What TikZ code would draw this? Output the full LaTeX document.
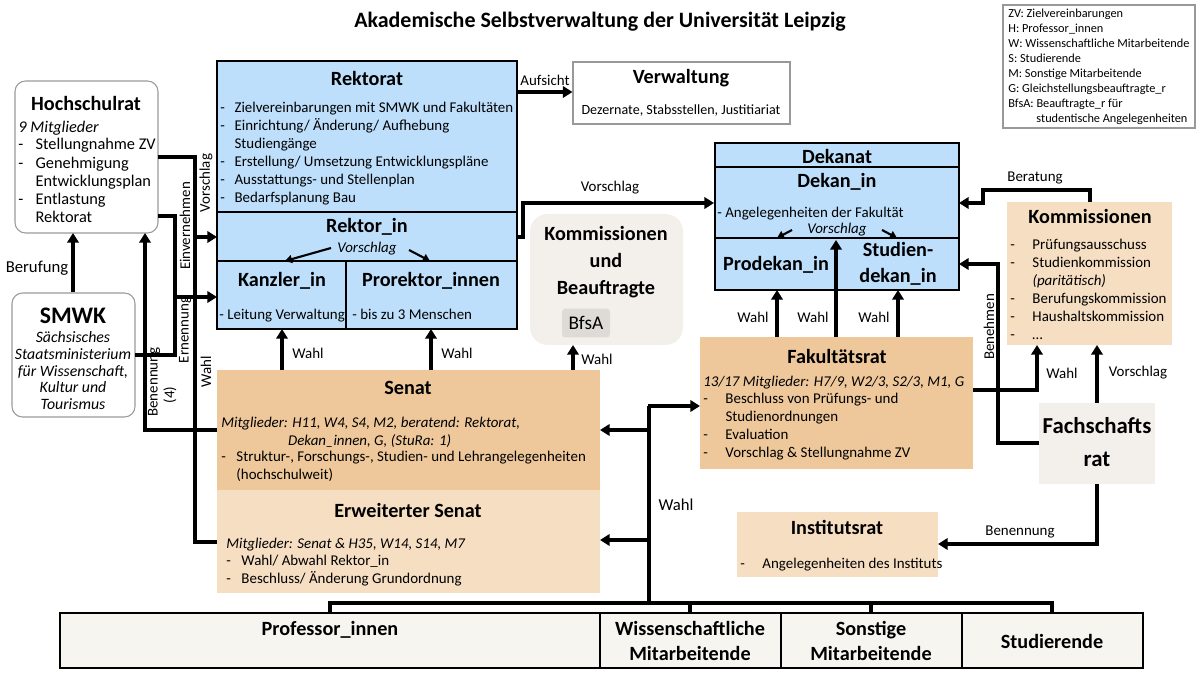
\documentclass[tikz,border=0pt]{standalone}
\usepackage{fontspec}
\setmainfont{Carlito}
\usetikzlibrary{arrows.meta,fit}
\definecolor{cblue}{HTML}{BDDFFB}
\definecolor{corange}{HTML}{EEC89B}
\definecolor{clight}{HTML}{F6DEC2}
\definecolor{cgrey}{HTML}{F3F0EB}
\definecolor{cbfsa}{HTML}{DEDBD6}
\definecolor{cbar}{HTML}{F7F5F0}
\newcommand{\fs}[2]{\fontsize{#1}{#2}\selectfont}
\begin{document}
\begin{tikzpicture}[x=0.02cm,y=-0.02cm,
  box/.style={draw,line width=1.1pt,inner sep=0pt},
  gbox/.style={draw=black!40,line width=0.6pt,inner sep=0pt},
  rbox/.style={draw=black!40,line width=0.6pt,inner sep=0pt,rounded corners=6pt},
  nbox/.style={inner sep=0pt},
  hd/.style={font=\bfseries\fs{11.5}{13.5},inner sep=0pt,align=center},
  tx/.style={font=\fs{8.5}{10.2},align=left,anchor=north west,inner sep=0pt},
  lab/.style={font=\fs{8.5}{10},inner sep=1pt},
  con/.style={line width=2pt},
  arr/.style={line width=2pt,-{Triangle[length=5.5pt,width=6.5pt]}},
  thin/.style={line width=1.2pt,-{Triangle[length=4pt,width=4.5pt]}}]
\useasboundingbox (0,0) rectangle (1200,675);
% title
\node[font=\bfseries\fs{12.5}{14}] (title) at (600,22) {Akademische Selbstverwaltung der Universität Leipzig};
% legend
\node[gbox,fit={(1003,5)(1195,128)}] (leg) {};
\node[tx,font=\fs{7}{8.5}] (legt) at (1008,9) {ZV: Zielvereinbarungen\\H: Professor\_innen\\W: Wissenschaftliche Mitarbeitende\\S: Studierende\\M: Sonstige Mitarbeitende\\G: Gleichstellungsbeauftragte\_r\\BfsA: Beauftragte\_r für\\\hspace{16pt}studentische Angelegenheiten};
% Hochschulrat
\node[rbox,fit={(15,81)(158,233)}] (hr) {};
\node[hd] (hrt) at (86,103) {Hochschulrat};
\node[tx,font=\fs{9.3}{10.3}] (hrl) at (18,121) {\textit{9 Mitglieder}\\[0pt]\begin{tabular}{@{}l@{\hspace{7pt}}l@{}}-&Stellungnahme ZV\\-&Genehmigung\\&Entwicklungsplan\\-&Entlastung\\&Rektorat\end{tabular}};
% SMWK
\node[rbox,fit={(12,293)(135,417)}] (smwk) {};
\node[hd,font=\bfseries\fs{13.5}{15}] (smwkt) at (73,316) {SMWK};
\node[font=\itshape\fs{9}{9.6},align=center,inner sep=0pt,anchor=north] (smwkl) at (73,331) {Sächsisches\\Staatsministerium\\für Wissenschaft,\\Kultur und\\Tourismus};
% Rektorat
\node[box,fill=cblue,fit={(217,61)(517,329)}] (rek) {};
\draw[line width=1.1pt] (217,212) -- (517,212) (217,261) -- (517,261) (346,261) -- (346,329);
\node[hd] (rekt) at (367,78) {Rektorat};
\node[tx] (rekl) at (220,100) {\begin{tabular}{@{}l@{\hspace{5.5pt}}l@{}}-&Zielvereinbarungen mit SMWK und Fakultäten\\-&Einrichtung/ Änderung/ Aufhebung\\&Studiengänge\\-&Erstellung/ Umsetzung Entwicklungspläne\\-&Ausstattungs- und Stellenplan\\-&Bedarfsplanung Bau\end{tabular}};
\node[hd] (rin) at (367,227) {Rektor\_in};
\node[lab,font=\itshape\fs{8.5}{10}] (rvor) at (367,249) {Vorschlag};
\node[hd] (kanz) at (282,281) {Kanzler\_in};
\node[tx,anchor=base west] (kanzl) at (219,320) {- Leitung Verwaltung};
\node[hd] (pror) at (431,281) {Prorektor\_innen};
\node[tx,anchor=base west] (prorl) at (352,320) {- bis zu 3 Menschen};
\draw[thin] (331,248) -- (285,261);
\draw[thin] (409,250) -- (430,261);
% Verwaltung
\node[gbox,fit={(573,62)(790,124)}] (verw) {};
\node[hd] (verwt) at (681,78) {Verwaltung};
\node[lab,font=\fs{8}{10}] (verwl) at (681,111) {Dezernate, Stabsstellen, Justitiariat};
% Kommissionen und Beauftragte
\node[rbox,draw=none,fill=cgrey,rounded corners=10pt,fit={(530,214)(683,345)}] (kub) {};
\node[hd,font=\bfseries\fs{11.5}{15.5}] (kubt) at (606,262) {Kommissionen\\und\\Beauftragte};
\node[nbox,fill=cbfsa,rounded corners=2pt,minimum width=0.96cm,minimum height=0.58cm,font=\fs{11}{12}] (bfsa) at (586,323) {BfsA};
% Dekanat
\node[box,fill=cblue,fit={(715,143)(959,290)}] (dek) {};
\draw[line width=1.1pt] (715,167) -- (959,167) (715,238) -- (959,238);
\node[hd] (dekt) at (837,156) {Dekanat};
\node[hd] (dekin) at (837,182) {Dekan\_in};
\node[tx,anchor=base west] (dekl) at (717,218) {- Angelegenheiten der Fakultät};
\node[lab,font=\itshape\fs{8.5}{10}] (dvor) at (837,230) {Vorschlag};
\draw[thin] (792,230) -- (777,238);
\draw[thin] (882,230) -- (897,238);
\node[hd] (prod) at (776,265) {Prodekan\_in};
\node[hd,font=\bfseries\fs{11.5}{15}] (stud) at (898,264) {Studien-\\dekan\_in};
% Kommissionen right
\node[nbox,fill=clight,fit={(1007,202)(1172,345)}] (kom) {};
\node[hd] (komt) at (1090,216) {Kommissionen};
\node[tx] (koml) at (1010,237) {\begin{tabular}{@{}l@{\hspace{10pt}}l@{}}-&Prüfungsausschuss\\-&Studienkommission\\&\textit{(paritätisch)}\\-&Berufungskommission\\-&Haushaltskommission\\-&…\end{tabular}};
% Fachschaftsrat
\node[nbox,fill=cgrey,fit={(1039,403)(1155,484)}] (fsr) {};
\node[hd,font=\bfseries\fs{13}{19}] (fsrt) at (1097,442) {Fachschafts\\rat};
% Fakultaetsrat
\node[nbox,fill=corange,fit={(700,337)(973,469)}] (fak) {};
\node[hd] (fakt) at (837,356) {Fakultätsrat};
\node[tx] (fakl) at (703,376) {\textit{13/17 Mitglieder: H7/9, W2/3, S2/3, M1, G}\\\begin{tabular}{@{}l@{\hspace{10pt}}l@{}}-&Beschluss von Prüfungs- und\\&Studienordnungen\\-&Evaluation\\-&Vorschlag \& Stellungnahme ZV\end{tabular}};
% Institutsrat
\node[nbox,fill=clight,fit={(737,512)(938,577)}] (inst) {};
\node[hd] (instt) at (837,527) {Institutsrat};
\node[tx,anchor=base west] (instl) at (740,568) {-\hspace{10pt}Angelegenheiten des Instituts};
% Senat
\node[nbox,fill=corange,fit={(217,370)(600,490)}] (sen) {};
\node[nbox,fill=clight,fit={(217,490)(600,593)}] (esen) {};
\node[hd] (sent) at (408,388) {Senat};
\node[tx] (senl) at (221,417) {\textit{Mitglieder: H11, W4, S4, M2, beratend: Rektorat,}\\\textit{\hspace{38pt}Dekan\_innen, G, (StuRa: 1)}\\\begin{tabular}{@{}l@{\hspace{6pt}}l@{}}-&Struktur-, Forschungs-, Studien- und Lehrangelegenheiten\\&(hochschulweit)\end{tabular}};
\node[hd] (esent) at (408,510) {Erweiterter Senat};
\node[tx] (esenl) at (226,538) {\textit{Mitglieder: Senat \& H35, W14, S14, M7}\\\begin{tabular}{@{}l@{\hspace{6pt}}l@{}}-&Wahl/ Abwahl Rektor\_in\\-&Beschluss/ Änderung Grundordnung\end{tabular}};
% bottom bar
\node[box,line width=1.5pt,fill=cbar,fit={(60,613)(600,668)}] (prof) {};
\node[box,line width=1.5pt,fill=cbar,fit={(600,613)(781,668)}] (wiss) {};
\node[box,line width=1.5pt,fill=cbar,fit={(781,613)(962,668)}] (sonst) {};
\node[box,line width=1.5pt,fill=cbar,fit={(962,613)(1143,668)}] (studi) {};
\node[hd] at (330,630) {Professor\_innen};
\node[hd,font=\bfseries\fs{11.5}{14}] at (690,641) {Wissenschaftliche\\Mitarbeitende};
\node[hd,font=\bfseries\fs{11.5}{14}] at (871,641) {Sonstige\\Mitarbeitende};
\node[hd] at (1052,641) {Studierende};
% connectors
\draw[arr] (517,92) -- (verw.west |- 0,92);
\node[lab] at (545,80) {Aufsicht};
\draw[arr] (517,237) -- (523,237) -- (523,203) -- (dek.west |- 0,203);
\node[lab] at (610,188) {Vorschlag};
\draw[arr] (smwk.north -| 73,0) -- (73,233);
\node[lab,font=\fs{9.5}{10}] at (37,268) {Berufung};
\draw[arr] (158,157) -- (195,157) -- (195,237) -- (217,237);
\draw[con] (217,542) -- (195,542) -- (195,237);
\draw[arr] (158,216) -- (175,216) -- (175,297) -- (217,297);
\draw[con] (135,355) -- (175,355) -- (175,297);
\draw[arr] (217,430) -- (145,430) -- (145,233);
\node[lab,rotate=90] at (206,183) {Vorschlag};
\node[lab,rotate=90] at (185,226) {Einvernehmen};
\node[lab,rotate=90] at (185,330) {Ernennung};
\node[lab,rotate=90] at (154,382) {Benennung};
\node[lab,rotate=90] at (170,395) {(4)};
\node[lab,rotate=90] at (206,372) {Wahl};
\draw[arr] (282,370) -- (282,329);
\draw[arr] (431,370) -- (431,329);
\draw[arr] (573,370) -- (573,345);
\node[lab] at (308,353) {Wahl};
\node[lab] at (457,353) {Wahl};
\node[lab] at (597,359) {Wahl};
\draw[arr] (777,337) -- (777,290);
\draw[arr] (836,337) -- (836,240);
\draw[arr] (898,337) -- (898,290);
\node[lab] at (753,317) {Wahl};
\node[lab] at (813,317) {Wahl};
\node[lab] at (874,317) {Wahl};
\draw[arr] (1090,202) -- (1090,190) -- (983,190) -- (983,203) -- (959,203);
\node[lab] at (1035,178) {Beratung};
\draw[arr] (1039,443) -- (998,443) -- (998,264) -- (959,264);
\node[lab,rotate=90] at (989,327) {Benehmen};
\draw[arr] (973,390) -- (1037,390) -- (1037,345);
\node[lab] at (1062,373) {Wahl};
\draw[arr] (1097,403) -- (1097,345);
\node[lab] at (1138,373) {Vorschlag};
\draw[arr] (1097,484) -- (1097,544) -- (938,544);
\node[lab] at (1020,532) {Benennung};
\draw[con] (649,603) -- (649,406);
\draw[arr] (648,406) -- (700,406);
\draw[arr] (649,430) -- (600,430);
\draw[arr] (649,540) -- (600,540);
\node[lab,font=\fs{9.5}{11}] at (676,505) {Wahl};
\draw[con] (330,613) -- (330,603) -- (1052,603) -- (1052,613);
\draw[con] (690,603) -- (690,613);
\draw[con] (871,603) -- (871,613);
\end{tikzpicture}
\end{document}
